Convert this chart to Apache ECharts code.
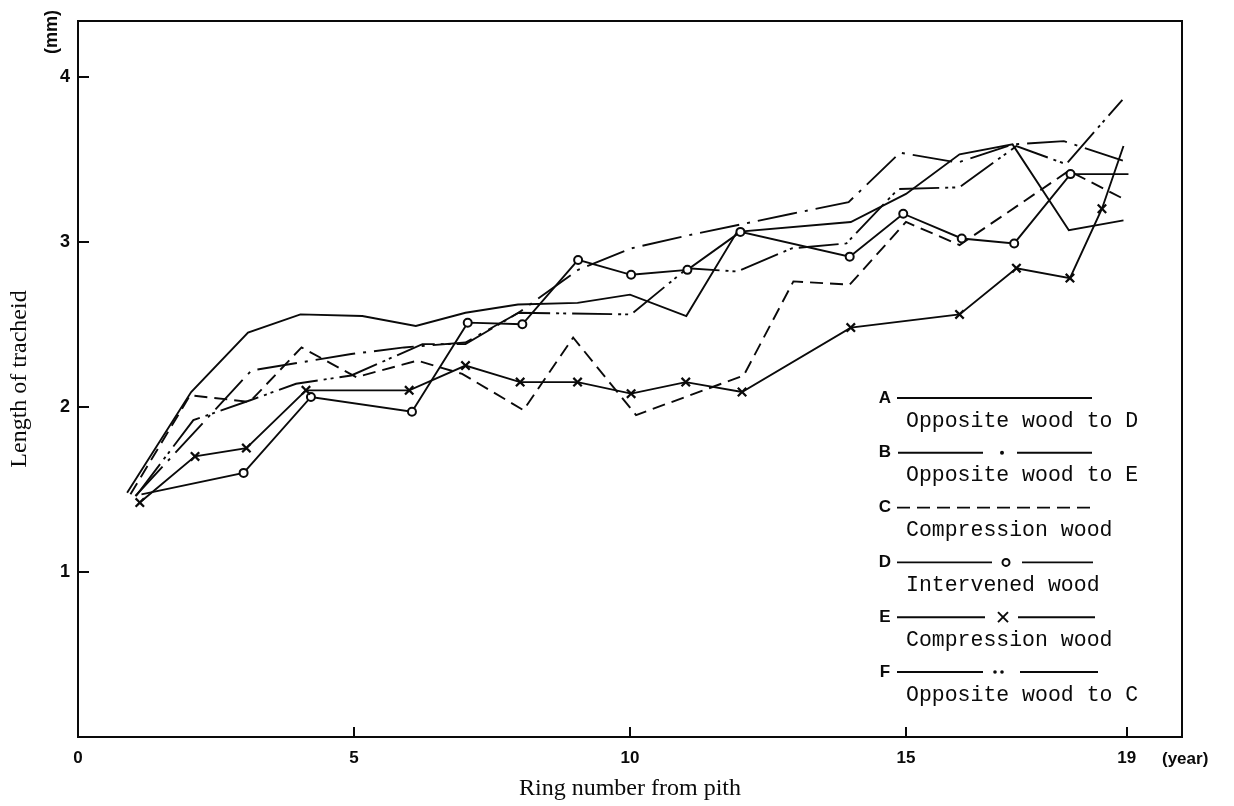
<!DOCTYPE html>
<html>
<head>
<meta charset="utf-8">
<script src="https://cdn.jsdelivr.net/npm/echarts@6/dist/echarts.min.js"></script>
<style>
html,body{margin:0;padding:0;background:#fff;}
#chart{width:1234px;height:806px;}
</style>
</head>
<body>
<div id="chart"></div>
<script>
// ---- data: [ring number, length (mm)] ----
const seriesA = [[0.89,1.48],[2.05,2.09],[3.08,2.45],[4.03,2.56],[5.15,2.55],[6.12,2.49],[7.02,2.57],[7.97,2.62],[9.05,2.63],[10.0,2.68],[11.02,2.55],[11.94,3.06],[14.0,3.12],[15.0,3.29],[15.97,3.53],[16.93,3.59],[17.95,3.07],[18.94,3.13]];
const seriesB = [[1.04,1.46],[3.14,2.22],[4.95,2.32],[5.91,2.36],[7.02,2.39],[7.98,2.57],[9.06,2.83],[10.02,2.96],[11.07,3.04],[12.93,3.17],[13.96,3.24],[14.89,3.54],[15.94,3.48],[16.93,3.59],[17.86,3.61],[18.94,3.49]];
const seriesC = [[0.95,1.47],[2.03,2.07],[3.11,2.03],[4.05,2.36],[5.04,2.18],[6.15,2.28],[6.96,2.20],[8.07,1.98],[8.97,2.42],[10.11,1.95],[12.06,2.19],[12.96,2.76],[13.98,2.74],[15.0,3.12],[15.97,2.98],[17.95,3.43],[19.0,3.25]];
const seriesD = [[1.15,1.47],[3.0,1.60],[4.22,2.06],[6.05,1.97],[7.06,2.51],[8.05,2.50],[9.06,2.89],[10.02,2.80],[11.04,2.83],[12.0,3.06],[13.98,2.91],[14.95,3.17],[16.01,3.02],[16.96,2.99],[17.98,3.41],[19.03,3.41]];
const seriesE = [[1.12,1.42],[2.12,1.70],[3.05,1.75],[4.13,2.10],[6.0,2.10],[7.02,2.25],[8.01,2.15],[9.05,2.15],[10.02,2.08],[11.01,2.15],[12.03,2.09],[14.0,2.48],[15.97,2.56],[17.0,2.84],[17.97,2.78],[18.55,3.20],[18.94,3.58]];
const seriesF = [[1.05,1.46],[2.09,1.92],[3.12,2.04],[3.95,2.14],[4.95,2.19],[6.24,2.38],[7.02,2.38],[7.98,2.57],[10.02,2.56],[11.04,2.84],[11.94,2.82],[12.93,2.96],[13.92,2.99],[14.86,3.32],[15.97,3.33],[17.0,3.58],[17.9,3.47],[18.92,3.86]];

const xTickValues = [5,10,15,19];
const xLabelValues = [0,5,10,15,19];
const yTickValues = [1,2,3,4];
const legendKeys = ['A','B','C','D','E','F'];
const legendDescs = ['Opposite wood to D','Opposite wood to E','Compression wood','Intervened wood','Compression wood','Opposite wood to C'];
const xAxisTitle = 'Ring number from pith';
const yAxisTitle = 'Length of tracheid';
const yUnit = '(mm)';
const xUnit = '(year)';

// ---- styling ----
const INK = '#0a0a0a';
const LW = 1.9;
const xMark = 'path://M0,1.6L1.6,0L5,3.4L8.4,0L10,1.6L6.6,5L10,8.4L8.4,10L5,6.6L1.6,10L0,8.4L3.4,5Z';

function marked(arr, skipFirst, skipLast){
  return arr.map((p,i)=>{
    const none = (skipFirst && i===0) || (skipLast && i===arr.length-1);
    return none ? {value:p, symbol:'none'} : {value:p};
  });
}

function lineSeries(name, data, type, extra){
  return Object.assign({
    name, type:'line', data, symbol:'none', silent:true,
    lineStyle:{color:INK, width:LW, type:type, cap:'butt', join:'miter'},
    itemStyle:{color:INK}, z:3
  }, extra||{});
}

const series = [
  lineSeries('A', seriesA, 'solid'),
  lineSeries('B', seriesB, [40,8,3,8]),
  lineSeries('C', seriesC, [13,7]),
  lineSeries('D', marked(seriesD, true, true), 'solid', {
    symbol:'circle', symbolSize:8, showSymbol:true,
    itemStyle:{color:'#fff', borderColor:INK, borderWidth:2}, z:4
  }),
  lineSeries('E', marked(seriesE, false, true), 'solid', {
    symbol:xMark, symbolSize:10, showSymbol:true,
    itemStyle:{color:INK}, z:4
  }),
  lineSeries('F', seriesF, [40,6,3,4,3,6])
];

// ---- hand-drawn style legend (graphic) ----
const LX = 885, LY0 = 398, LSTEP = 54.8;
const graphic = [];
function gLine(x1,y1,x2,y2,dash){
  graphic.push({type:'line', silent:true, shape:{x1,y1,x2,y2},
    style:{stroke:INK, lineWidth:LW, lineDash:dash||null}});
}
function gText(x,y,text,font,align,rot){
  graphic.push({type:'text', silent:true, x, y, rotation:rot||0,
    style:{text, font, fill:INK, align:align||'left', verticalAlign:'middle',
           textAlign:align||'left', textVerticalAlign:'middle'}});
}
legendKeys.forEach((k,i)=>{
  const y = LY0 + LSTEP*i;
  gText(LX, y, k, 'bold 17px "Liberation Sans", Arial, sans-serif', 'center');
  if(k==='A'){ gLine(897,y,1092,y); }
  if(k==='B'){ gLine(898,y,983,y); graphic.push({type:'circle',silent:true,shape:{cx:1002,cy:y,r:2},style:{fill:INK}}); gLine(1017,y,1092,y); }
  if(k==='C'){ gLine(897,y,1093,y,[13,7]); }
  if(k==='D'){ gLine(897,y,992,y); graphic.push({type:'circle',silent:true,shape:{cx:1006,cy:y,r:3.5},style:{fill:'#fff',stroke:INK,lineWidth:2}}); gLine(1022,y,1093,y); }
  if(k==='E'){ gLine(897,y,985,y); gLine(998,y-5,1008,y+5); gLine(998,y+5,1008,y-5); gLine(1018,y,1095,y); }
  if(k==='F'){ gLine(897,y,983,y); graphic.push({type:'circle',silent:true,shape:{cx:995,cy:y,r:1.8},style:{fill:INK}}); graphic.push({type:'circle',silent:true,shape:{cx:1002,cy:y,r:1.8},style:{fill:INK}}); gLine(1020,y,1098,y); }
  gText(906, y+23, legendDescs[i], '21.5px "Liberation Mono", "DejaVu Sans Mono", monospace', 'left');
});
gText(52, 32, yUnit, 'bold 18px "Liberation Sans", Arial, sans-serif', 'center', Math.PI/2);
gText(1162, 759, xUnit, 'bold 17px "Liberation Sans", Arial, sans-serif', 'left');

const chart = echarts.init(document.getElementById('chart'), null, {renderer:'canvas'});
chart.setOption({
  animation:false,
  backgroundColor:'#fff',
  grid:{left:70, right:52, top:21, bottom:59, show:true, borderColor:INK, borderWidth:2, backgroundColor:'transparent'},
  xAxis:{
    type:'value', min:0, max:20, interval:1,
    axisLine:{show:true, onZero:false, lineStyle:{color:INK, width:2}},
    axisTick:{show:true, inside:true, length:10, customValues:xTickValues, lineStyle:{color:INK, width:2}},
    axisLabel:{show:true, customValues:xLabelValues, margin:13, color:INK, fontSize:17, fontWeight:'bold', fontFamily:'"Liberation Sans", Arial, sans-serif'},
    splitLine:{show:false},
    name:xAxisTitle, nameLocation:'middle', nameGap:40,
    nameTextStyle:{color:INK, fontSize:24, fontFamily:'"Liberation Serif", "Times New Roman", serif'}
  },
  yAxis:{
    type:'value', min:0, max:4.3375,
    axisLine:{show:true, onZero:false, lineStyle:{color:INK, width:2}},
    axisTick:{show:true, inside:true, length:11, customValues:yTickValues, lineStyle:{color:INK, width:2}},
    axisLabel:{show:true, customValues:yTickValues, margin:8, color:INK, fontSize:18, fontWeight:'bold', fontFamily:'"Liberation Sans", Arial, sans-serif'},
    splitLine:{show:false},
    name:yAxisTitle, nameLocation:'middle', nameGap:46, nameRotate:90,
    nameTextStyle:{color:INK, fontSize:24, fontFamily:'"Liberation Serif", "Times New Roman", serif'}
  },
  series,
  graphic
});
</script>
</body>
</html>
